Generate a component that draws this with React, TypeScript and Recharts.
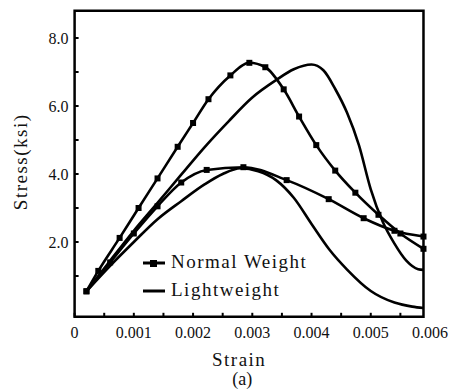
import { LineChart, Line, XAxis, YAxis, ReferenceArea, Label } from "recharts";

// normal weight concrete, higher strength (markers)
const NW_HIGH_STRAIN = [0.0002, 0.0004, 0.00076, 0.00108, 0.0014, 0.00174, 0.002, 0.00226, 0.00263, 0.00295, 0.00322, 0.00353, 0.00379, 0.00408, 0.0044, 0.00474, 0.00513, 0.0055, 0.00589];
const NW_HIGH_STRESS = [0.55, 1.15, 2.12, 3.0, 3.87, 4.8, 5.5, 6.2, 6.9, 7.27, 7.14, 6.49, 5.69, 4.85, 4.1, 3.45, 2.8, 2.25, 1.8];

// normal weight, lower strength (markers)
const NW_LOW_STRAIN = [0.0002, 0.0006, 0.001, 0.0014, 0.0018, 0.00223, 0.00285, 0.00358, 0.00429, 0.00488, 0.0054, 0.00589];
const NW_LOW_STRESS = [0.55, 1.4, 2.25, 3.05, 3.75, 4.12, 4.2, 3.82, 3.26, 2.7, 2.33, 2.16];

// lightweight, higher strength
const LW_HIGH_STRAIN = [0.0002, 0.0006, 0.001, 0.0014, 0.0018, 0.0022, 0.0026, 0.003, 0.0034, 0.0037, 0.004, 0.0042, 0.0044, 0.0046, 0.0048, 0.005, 0.0052, 0.0054, 0.0056, 0.0058, 0.00589];
const LW_HIGH_STRESS = [0.55, 1.45, 2.33, 3.15, 3.98, 4.8, 5.55, 6.25, 6.76, 7.08, 7.22, 7.05, 6.5, 5.8, 4.85, 3.55, 2.6, 1.95, 1.45, 1.2, 1.18];

// lightweight, lower strength
const LW_LOW_STRAIN = [0.0002, 0.0006, 0.001, 0.0014, 0.0018, 0.0022, 0.0025, 0.0028, 0.0031, 0.0034, 0.0037, 0.004, 0.0043, 0.0046, 0.005, 0.0054, 0.0057, 0.00589];
const LW_LOW_STRESS = [0.55, 1.3, 2.0, 2.67, 3.2, 3.7, 4.0, 4.17, 4.08, 3.82, 3.3, 2.53, 1.78, 1.19, 0.56, 0.22, 0.1, 0.06];

const STRAIN_TICKS = [0, 0.0005, 0.001, 0.0015, 0.002, 0.0025, 0.003, 0.0035, 0.004, 0.0045, 0.005, 0.0055, 0.006];
const STRESS_TICKS = [1, 2, 3, 4, 5, 6, 7, 8];
const LEGEND_NAMES = ["Normal Weight", "Lightweight"];

const FRAME_END = 0.00589;
const FONT = "'Liberation Serif', 'Times New Roman', serif";

const toRows = (xs: number[], ys: number[]) => xs.map((x, i) => ({ x, y: ys[i] }));

const SquareDot = (props: any) => {
  const { cx, cy } = props;
  if (cx == null || cy == null) return null;
  return <rect x={cx - 3} y={cy - 3} width={6} height={6} fill="#000" />;
};

const StrainTick = (props: any) => {
  const { x, y, payload } = props;
  const v = payload.value as number;
  const k = v * 1000;
  const major = Math.abs(k - Math.round(k)) < 1e-6;
  return (
    <g>
      {v < FRAME_END && <line x1={x} x2={x} y1={y} y2={y - 4} stroke="#000" strokeWidth={2} />}
      {major && (
        <text x={x} y={y + 21} textAnchor="middle" fontFamily={FONT} fontSize={16} fill="#111">
          {v === 0 ? "0" : v.toFixed(3)}
        </text>
      )}
    </g>
  );
};

const StressTick = (props: any) => {
  const { x, y, payload } = props;
  const v = payload.value as number;
  return (
    <g>
      <line x1={x} x2={x + 4} y1={y} y2={y} stroke="#000" strokeWidth={2} />
      {v % 2 === 0 && (
        <text x={x - 6} y={y} dy="0.35em" textAnchor="end" fontFamily={FONT} fontSize={16} fill="#111">
          {v.toFixed(1)}
        </text>
      )}
    </g>
  );
};

const LegendBox = () => (
  <svg width={200} height={60} style={{ position: "absolute", left: 130, top: 245 }}>
    <line x1={13} x2={35} y1={18} y2={18} stroke="#000" strokeWidth={3} />
    <rect x={20} y={15} width={7} height={7} fill="#000" />
    <text x={41} y={23} fontFamily={FONT} fontSize={19} letterSpacing={1.5} fill="#111">
      {LEGEND_NAMES[0]}
    </text>
    <line x1={13} x2={35} y1={46} y2={46} stroke="#000" strokeWidth={3} />
    <text x={41} y={51} fontFamily={FONT} fontSize={19} letterSpacing={1.5} fill="#111">
      {LEGEND_NAMES[1]}
    </text>
  </svg>
);

export default function App() {
  const lineProps = {
    dataKey: "y",
    type: "monotone" as const,
    stroke: "#000",
    strokeWidth: 2.6,
    isAnimationActive: false,
  };
  return (
    <div style={{ position: "absolute", left: 0, top: 0, width: 459, height: 391, background: "#fff" }}>
      <LineChart width={459} height={391} margin={{ top: 10.8, right: 29, bottom: 44.2, left: 14.6 }}>
        <XAxis
          dataKey="x"
          type="number"
          domain={[0, 0.006]}
          ticks={STRAIN_TICKS}
          interval={0}
          height={30}
          axisLine={false}
          tickLine={false}
          tickSize={0}
          tickMargin={0}
          tick={<StrainTick />}
        >
          <Label
            content={(p: any) => {
              const vb = p.viewBox;
              return (
                <g>
                  <text x={vb.x + vb.width * 0.463} y={366} textAnchor="middle" fontFamily={FONT} fontSize={19} letterSpacing={1.5} fill="#111">
                    Strain
                  </text>
                  <text x={vb.x + vb.width * 0.472} y={385} textAnchor="middle" fontFamily={FONT} fontSize={18} fill="#111">
                    (a)
                  </text>
                </g>
              );
            }}
          />
        </XAxis>
        <YAxis
          type="number"
          domain={[-0.2, 8.8]}
          ticks={STRESS_TICKS}
          interval={0}
          width={60}
          axisLine={false}
          tickLine={false}
          tickSize={0}
          tickMargin={0}
          tick={<StressTick />}
        >
          <Label
            content={(p: any) => {
              const vb = p.viewBox;
              const cy = vb.y + vb.height / 2 - 2;
              return (
                <text x={27} y={cy} transform={`rotate(-90, 27, ${cy})`} textAnchor="middle" fontFamily={FONT} fontSize={19} letterSpacing={1.5} fill="#111">
                  Stress(ksi)
                </text>
              );
            }}
          />
        </YAxis>
        <ReferenceArea x1={0} x2={FRAME_END} y1={-0.2} y2={8.8} fill="none" stroke="#000" strokeWidth={2.5} />
        <Line {...lineProps} data={toRows(LW_LOW_STRAIN, LW_LOW_STRESS)} dot={false} />
        <Line {...lineProps} data={toRows(LW_HIGH_STRAIN, LW_HIGH_STRESS)} dot={false} />
        <Line {...lineProps} data={toRows(NW_LOW_STRAIN, NW_LOW_STRESS)} dot={<SquareDot />} />
        <Line {...lineProps} data={toRows(NW_HIGH_STRAIN, NW_HIGH_STRESS)} dot={<SquareDot />} />
      </LineChart>
      <LegendBox />
    </div>
  );
}
